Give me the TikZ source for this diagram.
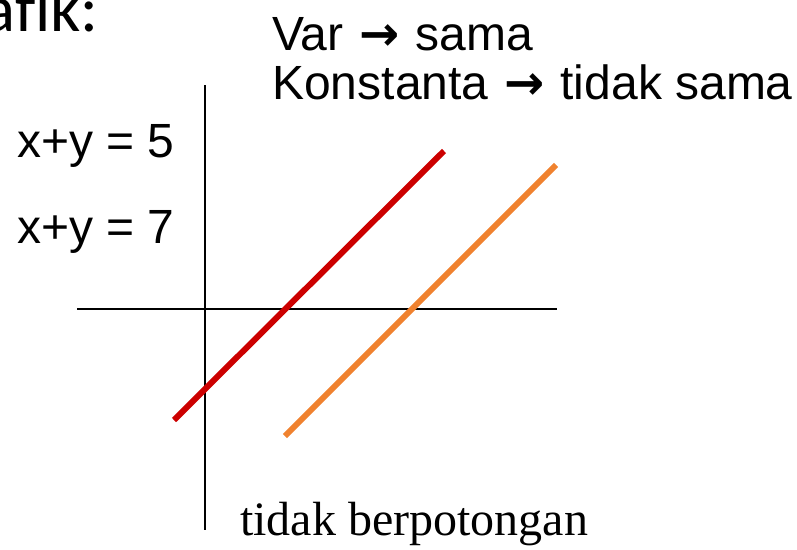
\documentclass[tikz,border=0pt]{standalone}
\usepackage{fontspec}
\setmainfont{Liberation Sans}
\newfontfamily\titlefont[Ligatures=NoCommon]{Carlito}
\newfontfamily\serifont{Liberation Serif}
\newfontfamily\panahfont{DejaVu Sans}
\newcommand{\panah}{\hspace{2pt}{\panahfont\bfseries →}\hspace{2pt}}
\definecolor{garismerah}{HTML}{CC0000}
\definecolor{garisoranye}{HTML}{F0822F}
\begin{document}
\begin{tikzpicture}[x=0.75pt,y=-0.75pt,
        teks/.style={anchor=base west, inner sep=0pt, font=\fontsize{36}{40}\selectfont},
        sumbu/.style={line width=1.5pt},
        garis/.style={line width=4.5pt}]
        \useasboundingbox (0,0) rectangle (797,550);
        % Judul (terpotong di tepi kiri)
        \node[anchor=base east, inner sep=0pt, font=\titlefont\fontsize{50}{54}\selectfont] (judul) at (99,31) {Grafik:};
        \node[teks] (var) at (272,50) {Var \panah{} sama};
        \node[teks] (konst) at (272,99) {Konstanta \panah{} tidak sama};
        \node[teks] (pers1) at (17,157) {x+y = 5};
        \node[teks] (pers2) at (17,243) {x+y = 7};
        \node[teks, font=\serifont\fontsize{36}{40}\selectfont] (ket) at (240,535) {tidak berpotongan};
        % Sumbu koordinat
        \coordinate (yatas) at (205,85); \coordinate (ybawah) at (205,530);
        \coordinate (xkiri) at (77,309); \coordinate (xkanan) at (557,309);
        \draw[sumbu] (yatas) -- (ybawah);
        \draw[sumbu] (xkiri) -- (xkanan);
        % Garis sejajar
        \coordinate (m1) at (174,420); \coordinate (m2) at (444,151);
        \coordinate (o1) at (285,436); \coordinate (o2) at (556,165);
        \draw[garis, garismerah] (m1) -- (m2);
        \draw[garis, garisoranye] (o1) -- (o2);
    \end{tikzpicture}
\end{document}
